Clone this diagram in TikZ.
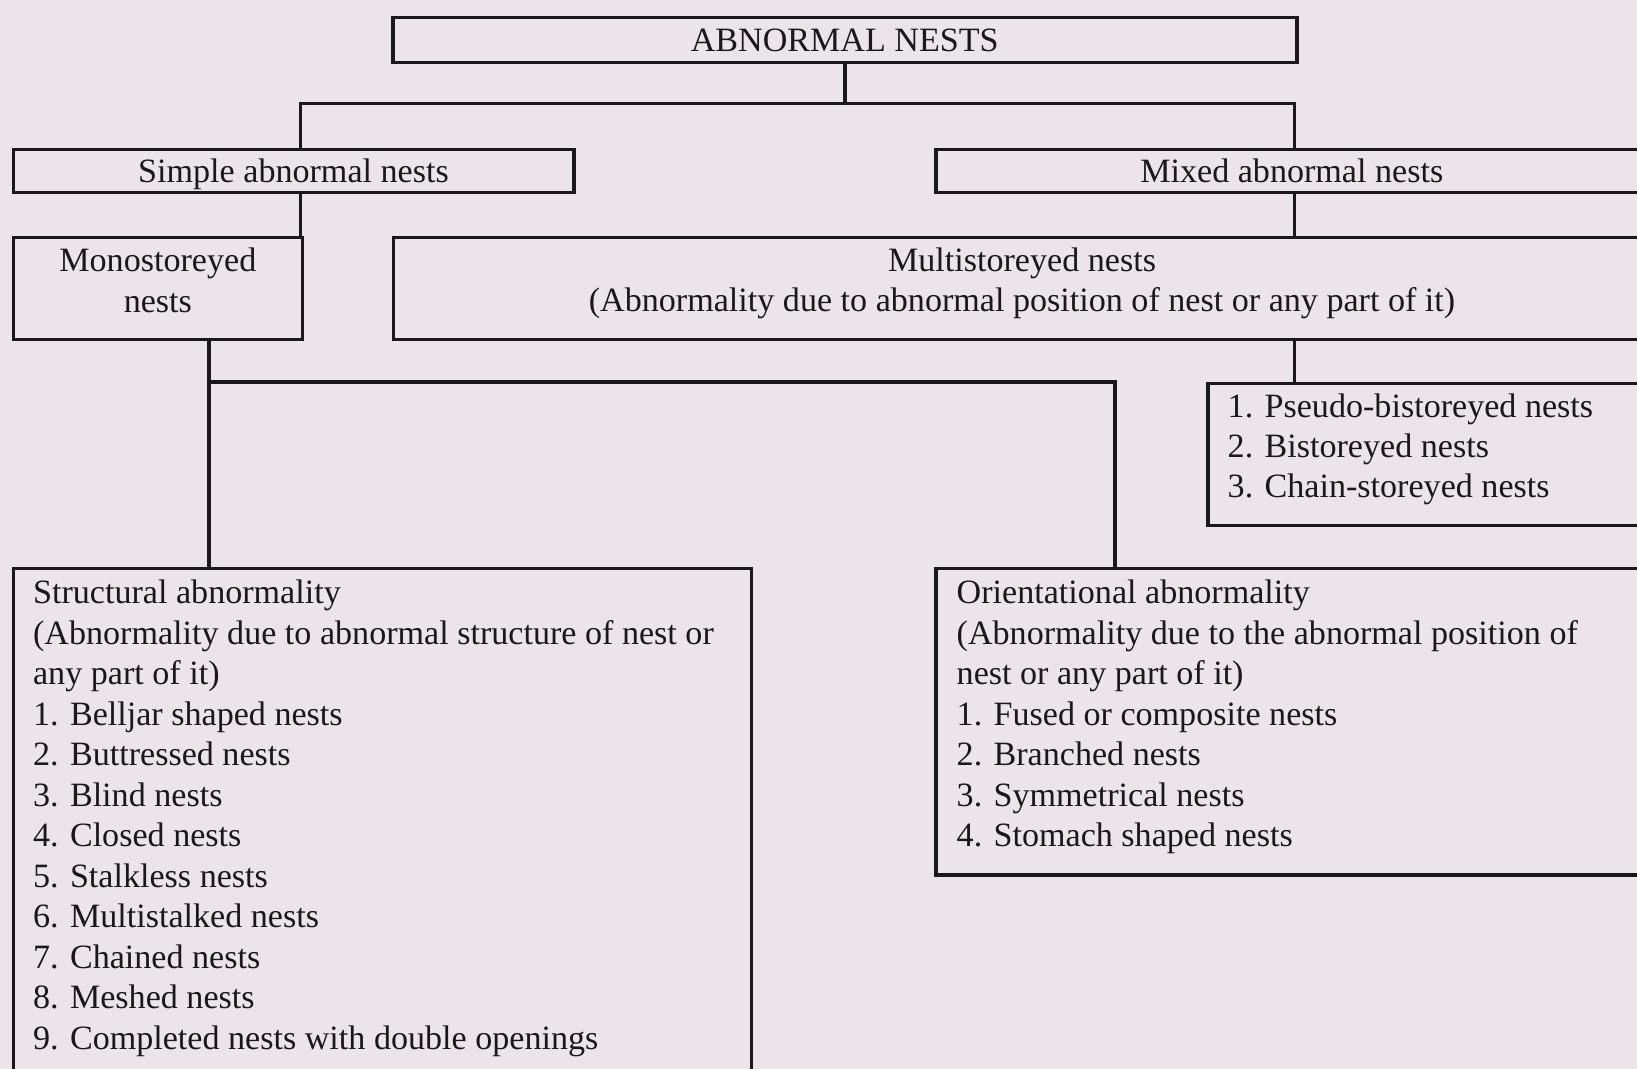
\documentclass[tikz,border=0pt]{standalone}
\usepackage{fontspec}
\setmainfont{Liberation Serif}
\definecolor{paper}{RGB}{235,228,233}
\definecolor{ink}{RGB}{26,24,26}
\newcommand{\nestfont}{\fontsize{9.7}{11.5}\selectfont}
\tikzset{
    box/.style={draw=ink, line width=1pt, rectangle, anchor=north west,
        inner sep=0pt, text=ink, font=\nestfont},
    oneline/.style={text height=6.6pt, text depth=0pt},
    caption/.style={inner sep=0pt, text=ink, font=\nestfont, align=center},
    link/.style={draw=ink, line width=1pt},
    entry/.style={anchor=mid west, inner sep=0pt, text=ink, font=\nestfont}
}

\begin{document}
\begin{tikzpicture}
        % Page frame and paper colour
        \useasboundingbox (0,0) rectangle (16.37,10.69);
        \clip (0,0) rectangle (16.37,10.69);
        \fill[paper] (0,0) rectangle (16.37,10.69);

        % Boxes of the tree
        \node[box, oneline, minimum width=9.04cm, minimum height=0.45cm] (top) at (3.91,10.53) {ABNORMAL NESTS};
        \node[box, oneline, minimum width=5.605cm, minimum height=0.43cm] (simple) at (0.115,9.21) {Simple abnormal nests};
        \node[box, oneline, minimum width=7.12cm, minimum height=0.43cm] (mixed) at (9.34,9.21) {Mixed abnormal nests};
        \node[box, minimum width=2.892cm, minimum height=1.02cm] (mono) at (0.115,8.33) {};
        \node[box, minimum width=12.575cm, minimum height=1.02cm] (multi) at (3.915,8.33) {};
        \node[box, minimum width=4.6cm, minimum height=1.42cm] (list) at (12.06,6.87) {};
        \node[box, minimum width=7.381cm, minimum height=5.4cm] (struct) at (0.115,5.02) {};
        \node[box, minimum width=7.3cm, minimum height=3.06cm] (orient) at (9.34,5.02) {};

        % Two-line captions
        \node[caption] (monoTxt) at ([yshift=0.085cm]mono.center) {Monostoreyed\\nests};
        \node[caption] (multiTxt) at ([yshift=0.055cm]multi.center)
            {Multistoreyed nests\\(Abnormality due to abnormal position of nest or any part of it)};

        % Connectors
        \coordinate (hubL) at (3.007,9.656);
        \coordinate (hubR) at (12.946,9.656);
        \coordinate (forkL) at (2.088,6.87);
        \coordinate (forkR) at (11.15,6.87);
        \draw[link] (top.south) -- (top.south |- hubL);
        \draw[link] (simple.north -| hubL) -- (hubL) -- (hubR) -- (mixed.north -| hubR);
        \draw[link] (simple.south -| hubL) -- (mono.north -| hubL);
        \draw[link] (mixed.south -| hubR) -- (multi.north -| hubR);
        \draw[link] (multi.south -| hubR) -- (list.north -| hubR);
        \draw[link] (mono.south -| forkL) -- (struct.north -| forkL);
        \draw[link] (forkL) -- (forkR) -- (orient.north -| forkR);

        % Multistoreyed kinds
        \foreach \t [count=\i] in {Pseudo-bistoreyed nests, Bistoreyed nests, Chain-storeyed nests} {
            \node[entry] (m\i) at (12.27,{6.60-0.403*(\i-1)}) {\i. \t};
        }

        % Structural abnormality
        \node[entry] (sHead) at (0.324,4.735) {Structural abnormality};
        \node[entry] (sNote) at (0.324,4.33) {(Abnormality due to abnormal structure of nest or};
        \node[entry] (sNoteb) at (0.324,3.925) {any part of it)};
        \foreach \t [count=\i] in {Belljar shaped nests, Buttressed nests, Blind nests, Closed nests,
            Stalkless nests, Multistalked nests, Chained nests, Meshed nests,
            Completed nests with double openings} {
            \node[entry] (s\i) at (0.324,{3.52-0.405*(\i-1)}) {\i. \t};
        }

        % Orientational abnormality
        \node[entry] (oHead) at (9.56,4.735) {Orientational abnormality};
        \node[entry] (oNote) at (9.56,4.33) {(Abnormality due to the abnormal position of};
        \node[entry] (oNoteb) at (9.56,3.925) {nest or any part of it)};
        \foreach \t [count=\i] in {Fused or composite nests, Branched nests, Symmetrical nests,
            Stomach shaped nests} {
            \node[entry] (o\i) at (9.56,{3.52-0.405*(\i-1)}) {\i. \t};
        }
    \end{tikzpicture}
\end{document}
